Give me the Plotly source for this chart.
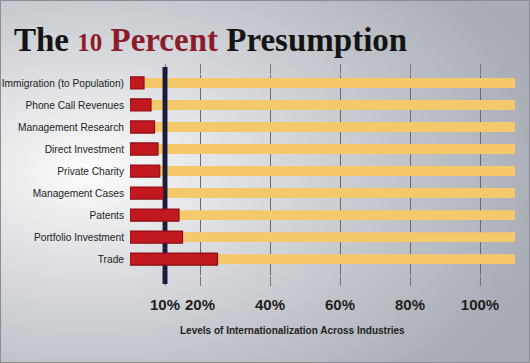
import base64, zlib, struct
import numpy as np
import plotly.graph_objects as go

# ---------------- data ----------------
categories = ["Immigration (to Population)", "Phone Call Revenues", "Management Research",
              "Direct Investment", "Private Charity", "Management Cases", "Patents",
              "Portfolio Investment", "Trade"]
values = [4, 6, 7, 8, 8.5, 9.5, 14, 15, 25]
tick_vals = [10, 20, 40, 60, 80, 100]
tick_text = ["10%", "20%", "40%", "60%", "80%", "100%"]
track_max = 110
presumption = 10

# ---------------- geometry ----------------
W, H = 530, 363
ML, MR, MT, MB = 130, 15, 75, 88
PW, PH = W - ML - MR, H - MT - MB

def px2x(px):
    return (px - ML) / PW

def py2y(py):
    return 1 - (py - MT) / PH

# gradient background image
yy, xx = np.mgrid[0:H, 0:W].astype(float)
d = np.sqrt(((xx - 90) / 480) ** 2 + ((yy - 170) / 300) ** 2)
t = np.clip(d, 0, 1) ** 0.85
white = np.array([255, 255, 255.0])
gray = np.array([166, 171, 180.0])
img = (white[None, None, :] * (1 - t[..., None]) + gray[None, None, :] * t[..., None]).astype(np.uint8)

def png_uri(arr):
    h, w, _ = arr.shape
    raw = b"".join(b"\x00" + arr[i].tobytes() for i in range(h))
    def chunk(tag, data):
        c = struct.pack(">I", len(data)) + tag + data
        return c + struct.pack(">I", zlib.crc32(tag + data) & 0xffffffff)
    png = b"\x89PNG\r\n\x1a\n" + chunk(b"IHDR", struct.pack(">IIBBBBB", w, h, 8, 2, 0, 0, 0)) \
        + chunk(b"IDAT", zlib.compress(raw, 9)) + chunk(b"IEND", b"")
    return "data:image/png;base64," + base64.b64encode(png).decode()

pos = list(range(len(categories)))
YR = [8.72, -0.36]
line_half = 0.7  # half-thickness of the 10% marker, in axis units

YELLOW = "#F4C86B"
CREAM = "#F8F5D9"
RED = "#C21820"
NAVY = "#1B1B3A"
sans = "Liberation Sans, Arial, sans-serif"

fig = go.Figure()
# yellow tracks
fig.add_trace(go.Bar(y=pos, x=[track_max] * len(pos), orientation="h", width=0.45,
                     marker=dict(color=YELLOW, line=dict(width=0)), hoverinfo="skip"))
# the 10% marker as a continuous band across all rows
fig.add_trace(go.Bar(y=pos, x=[2 * line_half] * len(pos), base=[presumption - line_half] * len(pos),
                     orientation="h", width=1.0,
                     marker=dict(color=NAVY, line=dict(width=0)), hoverinfo="skip"))
# red bars
fig.add_trace(go.Bar(y=pos, x=values, orientation="h", width=0.55,
                     marker=dict(color=RED, line=dict(color="#8E0F14", width=1.2))))

bottom_band = (YR[0] - (len(pos) - 0.5)) / (YR[0] - YR[1])

fig.update_layout(
    width=W, height=H, showlegend=False, barmode="overlay",
    margin=dict(l=ML, r=MR, t=MT, b=MB, autoexpand=False),
    paper_bgcolor="#B8BCC3", plot_bgcolor=CREAM,
    title=dict(
        text="The <span style='color:#8C1C2C'><span style='font-size:25px'>10</span> Percent</span> Presumption",
        x=14 / W, xanchor="left", xref="container",
        y=1 - 39 / H, yanchor="middle", yref="container",
        font=dict(family="Liberation Serif, DejaVu Serif, serif", size=33, color="#141414", weight="bold")),
    xaxis=dict(range=[0, track_max], tickvals=tick_vals, ticktext=tick_text, automargin=False,
               showgrid=True, gridcolor="#6A6A6A", gridwidth=1, zeroline=False,
               ticks="outside", ticklen=10, tickcolor="#777", mirror="ticks", tickangle=0,
               ticklabelstandoff=6,
               tickfont=dict(family=sans, size=15, color="#1E1E1E", weight="bold")),
    yaxis=dict(range=YR, tickvals=pos, ticktext=categories, showgrid=False, zeroline=False,
               automargin=False, ticks="", ticklabelstandoff=5,
               tickfont=dict(family=sans, size=10.2, color="#222")),
    images=[dict(source=png_uri(img), xref="paper", yref="paper",
                 x=px2x(0), y=py2y(0), sizex=W / PW, sizey=H / PH,
                 xanchor="left", yanchor="top", sizing="stretch", layer="below")],
    shapes=[
        dict(type="line", xref="x", yref="paper", x0=presumption, x1=presumption,
             y0=1, y1=py2y(MT - 8), line=dict(color=NAVY, width=5), layer="above"),
        dict(type="line", xref="x", yref="paper", x0=presumption, x1=presumption,
             y0=bottom_band, y1=py2y(MT + PH + 9), line=dict(color=NAVY, width=5), layer="above"),
        dict(type="rect", xref="paper", yref="paper", x0=px2x(0.5), x1=px2x(W - 0.5),
             y0=py2y(0.5), y1=py2y(H - 0.5), line=dict(color="#8A8D92", width=1), layer="above"),
    ],
    annotations=[dict(text="Levels of Internationalization Across Industries",
                      xref="paper", yref="paper", x=px2x(292), y=py2y(330),
                      xanchor="center", yanchor="middle", showarrow=False,
                      font=dict(family=sans, size=10, color="#1E1E1E", weight="bold"))],
)

fig.write_html("out.html", config={"displayModeBar": False},
               post_script="document.body.style.margin='0';document.body.style.overflow='hidden';")
